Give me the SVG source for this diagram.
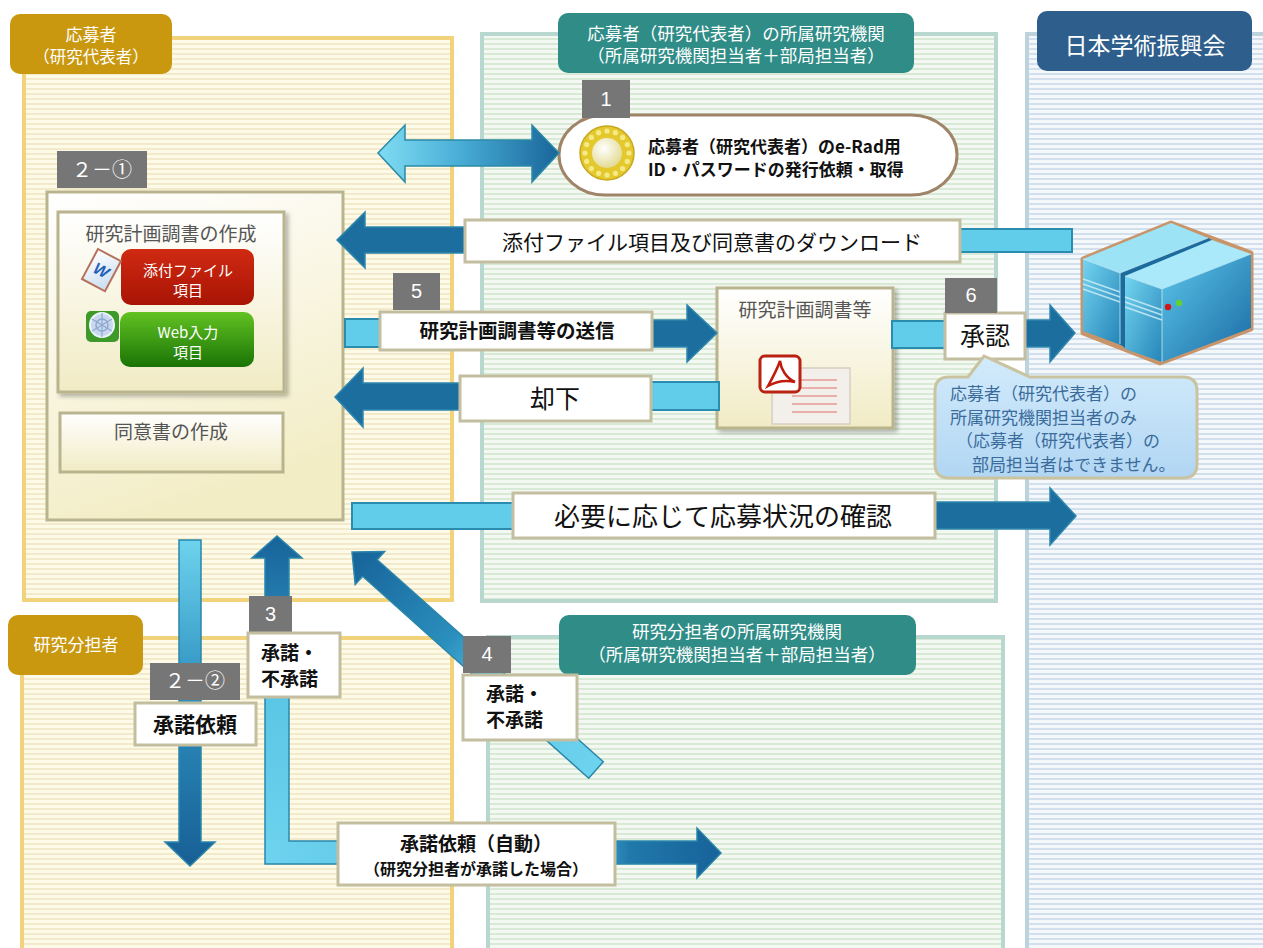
<svg xmlns="http://www.w3.org/2000/svg" width="1263" height="948" viewBox="0 0 1263 948">
<style>
.jp{font-family:"Noto Sans CJK JP","Noto Sans CJK SC",sans-serif;}
.num{font-family:"Liberation Sans",Arial,sans-serif;fill:#fff;font-size:20px;text-anchor:middle;}
.tabtxt{fill:#fff;text-anchor:middle;}
.badge{fill:#767676;}
.lbl{fill:#fff;stroke:#c3be9f;stroke-width:3;}
.lite{fill:#62cdea;stroke:#2a8db0;stroke-width:2;}
.dark{fill:#1c6e9f;stroke:#2e87ad;stroke-width:1.5;}
.edge{fill:none;stroke:#2a86aa;stroke-width:1.5;}
.bk{fill:#111;}
.gray{fill:#555;}
.note{fill:#3a6b9b;font-size:17px;}
</style>
<defs>
<pattern id="pY" width="8" height="5" patternUnits="userSpaceOnUse"><rect width="8" height="5" fill="#fdfae8"/><rect y="3" width="8" height="2" fill="#f2eaca"/></pattern>
<pattern id="pG" width="8" height="5" patternUnits="userSpaceOnUse"><rect width="8" height="5" fill="#f3f9f2"/><rect y="3" width="8" height="2" fill="#d8e9d5"/></pattern>
<pattern id="pB" width="8" height="5" patternUnits="userSpaceOnUse"><rect width="8" height="5" fill="#f4f8fb"/><rect y="3" width="8" height="2" fill="#d2dfec"/></pattern>
<linearGradient id="gBox" x1="0" y1="0" x2="0.3" y2="1"><stop offset="0" stop-color="#ffffff"/><stop offset="1" stop-color="#f3edc6"/></linearGradient>
<linearGradient id="gSmall" x1="0" y1="0" x2="0" y2="1"><stop offset="0" stop-color="#ffffff"/><stop offset="1" stop-color="#f1ebc4"/></linearGradient>
<linearGradient id="gRed" x1="0" y1="0" x2="0" y2="1"><stop offset="0" stop-color="#d02a12"/><stop offset="1" stop-color="#a81404"/></linearGradient>
<linearGradient id="gGreen" x1="0" y1="0" x2="0" y2="1"><stop offset="0" stop-color="#62c222"/><stop offset="1" stop-color="#1a7406"/></linearGradient>
<linearGradient id="gDbl" x1="0" y1="0" x2="1" y2="0"><stop offset="0" stop-color="#80dcf3"/><stop offset="0.45" stop-color="#49aed6"/><stop offset="1" stop-color="#19659a"/></linearGradient>
<linearGradient id="gV2" gradientUnits="userSpaceOnUse" x1="0" y1="540" x2="0" y2="866"><stop offset="0" stop-color="#6dd3ee"/><stop offset="0.45" stop-color="#2f92c0"/><stop offset="1" stop-color="#175f95"/></linearGradient>
<linearGradient id="gV3" gradientUnits="userSpaceOnUse" x1="0" y1="864" x2="0" y2="536"><stop offset="0" stop-color="#6dd3ee"/><stop offset="0.5" stop-color="#5cc6e6"/><stop offset="0.72" stop-color="#2a86b6"/><stop offset="1" stop-color="#17639a"/></linearGradient>
<linearGradient id="gH3" gradientUnits="userSpaceOnUse" x1="265" y1="0" x2="721" y2="0"><stop offset="0" stop-color="#6dd3ee"/><stop offset="0.7" stop-color="#4cb5dc"/><stop offset="0.8" stop-color="#2078ab"/><stop offset="1" stop-color="#17629a"/></linearGradient>
<linearGradient id="gD4" gradientUnits="userSpaceOnUse" x1="352" y1="552" x2="596" y2="770"><stop offset="0" stop-color="#176399"/><stop offset="0.4" stop-color="#2a8fbd"/><stop offset="0.62" stop-color="#5fc7e7"/><stop offset="1" stop-color="#6dd3ee"/></linearGradient>
<linearGradient id="gBubble" x1="0" y1="0" x2="0" y2="1"><stop offset="0" stop-color="#d3ebfb"/><stop offset="1" stop-color="#b1d6f3"/></linearGradient>
<linearGradient id="gFace" x1="0" y1="0" x2="1" y2="1"><stop offset="0" stop-color="#74d4f0"/><stop offset="1" stop-color="#2585b8"/></linearGradient>
<linearGradient id="gFaceR" x1="0" y1="0" x2="1" y2="1"><stop offset="0" stop-color="#5cc6ea"/><stop offset="1" stop-color="#1a6aa3"/></linearGradient>
<radialGradient id="gPearl" cx="0.4" cy="0.35" r="0.7"><stop offset="0" stop-color="#ffffff"/><stop offset="1" stop-color="#e2d88e"/></radialGradient>
<linearGradient id="gPaper" x1="0" y1="0" x2="1" y2="1"><stop offset="0" stop-color="#ffffff"/><stop offset="1" stop-color="#c9dcf0"/></linearGradient>
<filter id="sh" x="-10%" y="-10%" width="130%" height="130%"><feDropShadow dx="3" dy="3" stdDeviation="2" flood-color="#000" flood-opacity="0.28"/></filter>
</defs>

<rect width="1263" height="948" fill="#ffffff"/>

<g id="lanes">
  <rect x="24" y="38" width="428" height="562" fill="url(#pY)" stroke="#f2d37c" stroke-width="4"/>
  <rect x="482" y="34" width="514" height="567" fill="url(#pG)" stroke="#b8d8cf" stroke-width="4"/>
  <rect x="1027" y="34" width="245" height="930" fill="url(#pB)" stroke="#bcd3de" stroke-width="4"/>
  <rect x="22" y="638" width="430" height="330" fill="url(#pY)" stroke="#f2d37c" stroke-width="4"/>
  <rect x="488" y="637" width="515" height="330" fill="url(#pG)" stroke="#b8d8cf" stroke-width="4"/>
</g>

<g id="tab-applicant">
  <rect x="10" y="14" width="162" height="60" rx="10" fill="#c9980f"/>
  <text class="jp tabtxt" x="91" y="41" font-size="17">応募者</text>
  <text class="jp tabtxt" x="91" y="63" font-size="16.5">（研究代表者）</text>
</g>
<g id="tab-institution">
  <rect x="558" y="13" width="356" height="60" rx="10" fill="#2f8c87"/>
  <text class="jp tabtxt" x="736" y="39.5" font-size="17.5">応募者（研究代表者）の所属研究機関</text>
  <text class="jp tabtxt" x="736" y="62" font-size="17.5">（所属研究機関担当者＋部局担当者）</text>
</g>
<g id="tab-jsps">
  <rect x="1037" y="11" width="215" height="60" rx="10" fill="#2e5f8c"/>
  <text class="jp tabtxt" x="1145" y="54" font-size="23">日本学術振興会</text>
</g>
<g id="tab-coinvestigator">
  <rect x="8" y="615" width="135" height="60" rx="10" fill="#c9980f"/>
  <text class="jp tabtxt" x="76" y="651" font-size="17">研究分担者</text>
</g>
<g id="tab-co-institution">
  <rect x="559" y="615" width="357" height="60" rx="10" fill="#2f8c87"/>
  <text class="jp tabtxt" x="737" y="638" font-size="17.5">研究分担者の所属研究機関</text>
  <text class="jp tabtxt" x="737" y="661" font-size="17.5">（所属研究機関担当者＋部局担当者）</text>
</g>

<g id="node-2-1">
  <rect x="47" y="192" width="296" height="328" fill="url(#gBox)" stroke="#b9b38e" stroke-width="3"/>
  <rect class="badge" x="57" y="151" width="90" height="37"/>
  <text class="jp" x="102" y="177" font-size="20" fill="#fff" text-anchor="middle">２－①</text>
  <g id="node-plan">
    <rect x="58" y="212" width="226" height="180" fill="url(#gSmall)" stroke="#b9b38e" stroke-width="3" filter="url(#sh)"/>
    <text class="jp gray" x="171" y="241" font-size="19" text-anchor="middle">研究計画調書の作成</text>
    <rect x="121" y="249" width="133" height="56" rx="10" fill="url(#gRed)"/>
    <text class="jp" x="188" y="276" font-size="15" fill="#fff" text-anchor="middle">添付ファイル</text>
    <text class="jp" x="188" y="295.5" font-size="15" fill="#fff" text-anchor="middle">項目</text>
    <g transform="translate(101,271) rotate(28)">
      <rect x="-13" y="-18" width="26" height="34" fill="url(#gPaper)" stroke="#b5705a" stroke-width="2"/>
      <text x="0" y="5" font-family="Liberation Sans, Arial, sans-serif" font-weight="bold" font-style="italic" font-size="16" fill="#1f5fb8" text-anchor="middle">W</text>
    </g>
    <rect x="120" y="312" width="134" height="55" rx="10" fill="url(#gGreen)"/>
    <text class="jp" x="188" y="338" font-size="15" fill="#fff" text-anchor="middle">Web入力</text>
    <text class="jp" x="188" y="357.5" font-size="15" fill="#fff" text-anchor="middle">項目</text>
    <rect x="86" y="311" width="33" height="31" rx="5" fill="#3d9a28"/>
    <circle cx="102" cy="325" r="12" fill="#c9d8ee" stroke="#eef4fb" stroke-width="2"/>
    <circle cx="102" cy="325" r="6" fill="none" stroke="#8ea8d0" stroke-width="1.5"/>
    <path d="M92,319 L112,331 M92,331 L112,319 M102,313 V337" stroke="#8ea8d0" stroke-width="1.2" fill="none"/>
  </g>
  <g id="node-consent">
    <rect x="60" y="413" width="223" height="59" fill="url(#gSmall)" stroke="#b9b38e" stroke-width="3"/>
    <text class="jp gray" x="171" y="439" font-size="19" text-anchor="middle">同意書の作成</text>
  </g>
</g>

<g id="node-1">
  <rect x="559" y="115" width="398" height="80" rx="46" ry="40" fill="#fff" stroke="#a08468" stroke-width="3"/>
  <circle cx="607" cy="153" r="27" fill="#e4c92e" stroke="#c9a820" stroke-width="1.5"/>
  <g fill="#f6ea86">
    <circle cx="629" cy="153" r="2.6"/><circle cx="627.3" cy="161.4" r="2.6"/><circle cx="622.6" cy="168.6" r="2.6"/><circle cx="615.4" cy="173.3" r="2.6"/>
    <circle cx="607" cy="175" r="2.6"/><circle cx="598.6" cy="173.3" r="2.6"/><circle cx="591.4" cy="168.6" r="2.6"/><circle cx="586.7" cy="161.4" r="2.6"/>
    <circle cx="585" cy="153" r="2.6"/><circle cx="586.7" cy="144.6" r="2.6"/><circle cx="591.4" cy="137.4" r="2.6"/><circle cx="598.6" cy="132.7" r="2.6"/>
    <circle cx="607" cy="131" r="2.6"/><circle cx="615.4" cy="132.7" r="2.6"/><circle cx="622.6" cy="137.4" r="2.6"/><circle cx="627.3" cy="144.6" r="2.6"/>
  </g>
  <circle cx="607" cy="153" r="15" fill="url(#gPearl)"/>
  <text class="jp bk" x="648" y="153" font-size="17" font-weight="bold">応募者（研究代表者）のe-Rad用</text>
  <text class="jp bk" x="648" y="176" font-size="17" font-weight="bold">ID・パスワードの発行依頼・取得</text>
  <rect class="badge" x="582" y="80" width="48" height="38"/>
  <text class="num" x="606" y="106">1</text>
</g>

<g id="node-document">
  <rect x="717" y="288" width="176" height="140" fill="url(#gSmall)" stroke="#b9b38e" stroke-width="3" filter="url(#sh)"/>
  <text class="jp gray" x="805" y="317" font-size="19" text-anchor="middle">研究計画調書等</text>
  <rect x="772" y="368" width="78" height="56" fill="#f3efeb" stroke="#d8cec4" stroke-width="1.5"/>
  <path d="M792,380 H837 M792,388 H837 M792,396 H837 M792,404 H837 M792,412 H837" stroke="#e79a96" stroke-width="1.5"/>
  <rect x="760" y="356" width="40" height="36" rx="5" fill="#fff" stroke="#b92211" stroke-width="3"/>
  <path d="M768,386 C773,377 778,367 780,361 C781,369 786,378 795,382 C786,380 777,381 768,386 Z" fill="none" stroke="#c01a0a" stroke-width="2.5"/>
</g>

<g id="node-jsps-server">
  <polygon points="1083,259 1171,223 1251,253 1251,329 1160,363 1083,333" fill="#2c8cc0" stroke="#c8946a" stroke-width="5" stroke-linejoin="round"/>
  <polygon points="1083,259 1171,223 1208,238 1120,273" fill="#9ce3f6"/>
  <polygon points="1083,259 1120,273 1120,344 1083,331" fill="url(#gFace)"/>
  <polygon points="1120,273 1208,238 1212,240 1125,276 1125,348 1120,344" fill="#1d6b9c"/>
  <polygon points="1125,276 1212,240 1251,254 1162,289" fill="#a9e9f9"/>
  <polygon points="1125,276 1162,289 1162,362 1125,349" fill="url(#gFace)"/>
  <polygon points="1162,289 1251,254 1251,328 1162,362" fill="url(#gFaceR)"/>
  <path d="M1083,279 L1120,292 M1083,284 L1120,297 M1083,289 L1120,302 M1125,297 L1162,310 M1125,302 L1162,315 M1125,307 L1162,320" stroke="#d2f1fa" stroke-width="1.5" opacity="0.8"/>
  <path d="M1083,259 L1120,273 L1208,238 M1125,276 L1162,289 L1251,254 M1162,289 V362 M1120,273 V344" stroke="#c5ecf8" stroke-width="1" fill="none" opacity="0.8"/>
  <circle cx="1168" cy="307" r="3.2" fill="#d01818"/>
  <circle cx="1179" cy="303" r="3.2" fill="#62d032"/>
</g>

<g id="connectors">
  <polygon points="378,153 405,125 405,140 532,140 532,125 559,153 532,182 532,166 405,166 405,182" fill="url(#gDbl)" stroke="#2b8aa5" stroke-width="1.5"/>

  <polygon class="dark" points="337,240 365,212 365,227 470,227 470,253 365,253 365,268"/>
  <rect class="lite" x="958" y="229" width="114" height="23"/>

  <rect class="lite" x="345" y="319" width="38" height="28"/>
  <polygon class="dark" points="650,320 687,320 687,305 717,333 687,362 687,347 650,347"/>

  <polygon class="dark" points="335,397 363,368 363,383 462,383 462,410 363,410 363,427"/>
  <rect class="lite" x="650" y="382" width="69" height="28"/>

  <rect class="lite" x="892" y="321" width="55" height="27"/>
  <polygon class="dark" points="1024,320 1050,320 1050,305 1075,333 1050,362 1050,347 1024,347"/>

  <rect class="lite" x="352" y="503" width="163" height="26"/>
  <polygon class="dark" points="933,502 1050,502 1050,488 1076,516 1050,545 1050,529 933,529"/>

  <polygon points="179,540 201,540 201,842 215,842 190,866 165,842 179,842" fill="url(#gV2)" stroke="#2a86aa" stroke-width="1.5"/>

  <polygon points="265,864 265,558 252,558 277,536 302,558 289,558 289,864" fill="url(#gV3)"/>
  <polygon points="265,841 697,841 697,828 721,853 697,878 697,864 265,864" fill="url(#gH3)"/>
  <polygon class="edge" points="265,864 265,558 252,558 277,536 302,558 289,558 289,841 697,841 697,828 721,853 697,878 697,864"/>

  <polygon points="352,552 384.6,551.6 377.2,559.8 603.3,761.8 588.7,778.2 362.6,576.2 355.2,584.4" fill="url(#gD4)" stroke="#2a86aa" stroke-width="1.5"/>

  <g id="label-download">
    <rect class="lbl" x="465" y="220" width="495" height="42"/>
    <text class="jp bk" x="712" y="250" font-size="21" text-anchor="middle">添付ファイル項目及び同意書のダウンロード</text>
  </g>
  <g id="label-5">
    <rect class="lbl" x="380" y="312" width="272" height="38"/>
    <text class="jp bk" x="517" y="338" font-size="19.5" font-weight="bold" text-anchor="middle">研究計画調書等の送信</text>
    <rect class="badge" x="393" y="273" width="47" height="37"/>
    <text class="num" x="416.5" y="298">5</text>
  </g>
  <g id="label-reject">
    <rect class="lbl" x="460" y="376" width="191" height="45"/>
    <text class="jp bk" x="555" y="408" font-size="25" text-anchor="middle">却下</text>
  </g>
  <g id="label-6">
    <rect class="lbl" x="945" y="313" width="80" height="46"/>
    <text class="jp bk" x="985" y="345" font-size="25" text-anchor="middle">承認</text>
    <rect class="badge" x="945" y="278" width="52" height="35"/>
    <text class="num" x="971" y="302">6</text>
  </g>
  <g id="label-check">
    <rect class="lbl" x="513" y="493" width="422" height="45"/>
    <text class="jp bk" x="723" y="526" font-size="26" text-anchor="middle">必要に応じて応募状況の確認</text>
  </g>
  <g id="label-2-2">
    <rect class="badge" x="150" y="663" width="90" height="37"/>
    <text class="jp" x="195" y="688" font-size="20" fill="#fff" text-anchor="middle">２－②</text>
    <rect class="lbl" x="135" y="703" width="121" height="42"/>
    <text class="jp bk" x="195" y="732" font-size="21" font-weight="bold" text-anchor="middle">承諾依頼</text>
  </g>
  <g id="label-3">
    <rect class="badge" x="249" y="596" width="43" height="37"/>
    <text class="num" x="270.5" y="621">3</text>
    <rect class="lbl" x="248" y="633" width="92" height="64"/>
    <text class="jp bk" x="261" y="660" font-size="19" font-weight="bold">承諾・</text>
    <text class="jp bk" x="261" y="685.5" font-size="19" font-weight="bold">不承諾</text>
  </g>
  <g id="label-4">
    <rect class="badge" x="463" y="636" width="48" height="37"/>
    <text class="num" x="487" y="661">4</text>
    <rect class="lbl" x="463" y="675" width="114" height="65"/>
    <text class="jp bk" x="486" y="701" font-size="19" font-weight="bold">承諾・</text>
    <text class="jp bk" x="486" y="726.5" font-size="19" font-weight="bold">不承諾</text>
  </g>
  <g id="label-auto">
    <rect class="lbl" x="338" y="823" width="277" height="62"/>
    <text class="jp bk" x="476" y="851" font-size="19" font-weight="bold" text-anchor="middle">承諾依頼（自動）</text>
    <text class="jp bk" x="476" y="875" font-size="16" font-weight="bold" text-anchor="middle">（研究分担者が承諾した場合）</text>
  </g>
</g>

<g id="note-approval">
  <path d="M949,377 H968 L984,356 L1030,377 H1183 Q1197,377 1197,391 V464 Q1197,478 1183,478 H949 Q935,478 935,464 V391 Q935,377 949,377 Z" fill="url(#gBubble)" stroke="#c9c3a0" stroke-width="3"/>
  <text class="jp note" x="950" y="400">応募者（研究代表者）の</text>
  <text class="jp note" x="950" y="423.5">所属研究機関担当者のみ</text>
  <text class="jp note" x="956" y="447">（応募者（研究代表者）の</text>
  <text class="jp note" x="972" y="470.5">部局担当者はできません。</text>
</g>
</svg>
